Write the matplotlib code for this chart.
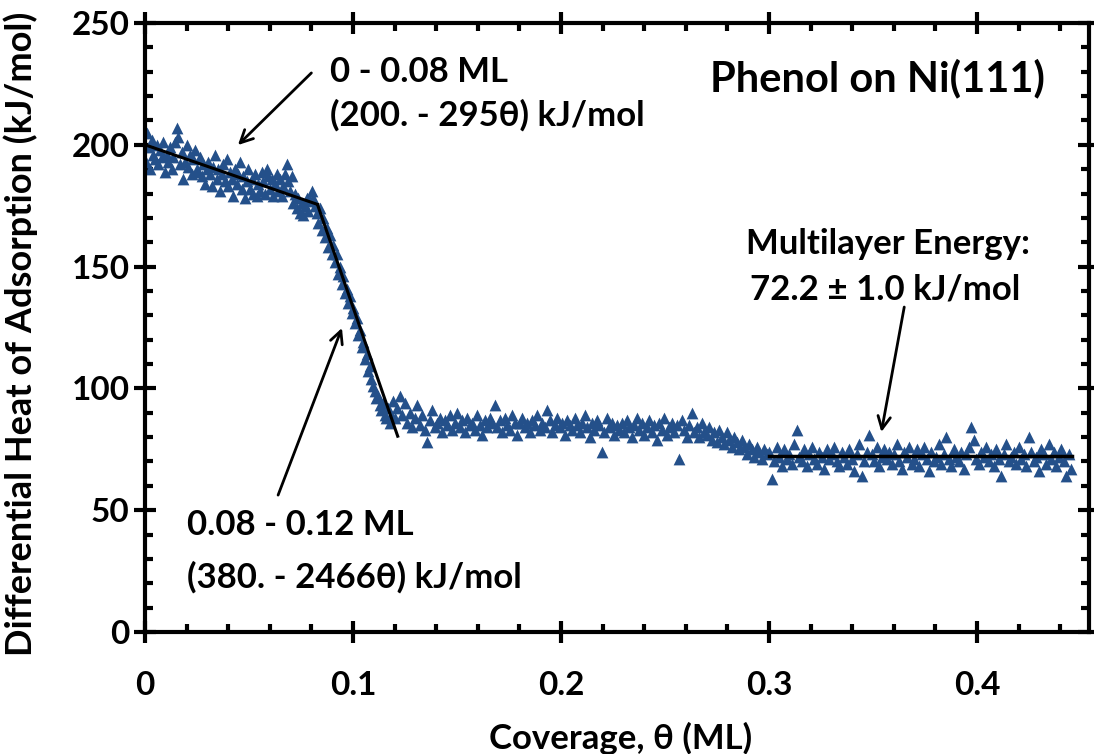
import numpy as np
import matplotlib
matplotlib.use("Agg")
import matplotlib.pyplot as plt
from matplotlib.ticker import MultipleLocator

plt.rcParams['font.family'] = ['Lato', 'DejaVu Sans']
plt.rcParams['font.weight'] = 'bold'

# --- data ---
# 0 - 0.08 ML
theta_a = [0.0003, 0.0010, 0.0018, 0.0025, 0.0033, 0.0041, 0.0049, 0.0057, 0.0065, 0.0073,
           0.0081, 0.0089, 0.0097, 0.0105, 0.0113, 0.0121, 0.0129, 0.0137, 0.0145, 0.0153,
           0.0161, 0.0169, 0.0177, 0.0185, 0.0193, 0.0201, 0.0209, 0.0217, 0.0225, 0.0233,
           0.0241, 0.0249, 0.0257, 0.0265, 0.0273, 0.0281, 0.0289, 0.0297, 0.0305, 0.0313,
           0.0321, 0.0329, 0.0337, 0.0345, 0.0353, 0.0361, 0.0369, 0.0377, 0.0385, 0.0393,
           0.0401, 0.0409, 0.0417, 0.0425, 0.0433, 0.0441, 0.0449, 0.0457, 0.0465, 0.0473,
           0.0481, 0.0489, 0.0497, 0.0505, 0.0513, 0.0521, 0.0529, 0.0537, 0.0545, 0.0553,
           0.0561, 0.0569, 0.0577, 0.0585, 0.0593, 0.0601, 0.0609, 0.0617, 0.0625, 0.0633,
           0.0641, 0.0649, 0.0657, 0.0665, 0.0673, 0.0681, 0.0689, 0.0697, 0.0705, 0.0713,
           0.0721, 0.0729, 0.0737, 0.0745, 0.0753, 0.0761, 0.0769, 0.0777, 0.0785, 0.0793,
           0.0801, 0.0809, 0.0817]
heat_a = [193, 205, 199, 190, 202, 196, 194, 200, 192, 198,
          195, 201, 189, 196, 193, 199, 190, 195, 201, 207,
          203, 192, 197, 186, 193, 200, 191, 196, 188, 194,
          198, 190, 189, 195, 187, 192, 184, 190, 193, 188,
          183, 191, 196, 186, 190, 181, 188, 192, 185, 194,
          183, 189, 186, 179, 190, 184, 188, 193, 182, 187,
          178, 185, 190, 182, 186, 180, 188, 179, 184, 181,
          189, 185, 180, 190, 187, 182, 186, 179, 184, 188,
          181, 186, 179, 183, 188, 192, 185, 181, 187, 176,
          180, 174, 178, 172, 176, 171, 175, 178, 173, 177,
          181, 178, 175]

# 0.08 - 0.12 ML
theta_b = [0.0825, 0.0833, 0.0841, 0.0849, 0.0857, 0.0865, 0.0873, 0.0881, 0.0889, 0.0897,
           0.0905, 0.0913, 0.0921, 0.0929, 0.0937, 0.0945, 0.0953, 0.0961, 0.0969, 0.0977,
           0.0985, 0.0993, 0.1001, 0.1009, 0.1017, 0.1025, 0.1033, 0.1041, 0.1049, 0.1057,
           0.1065, 0.1073, 0.1081, 0.1089, 0.1097, 0.1105, 0.1113, 0.1121, 0.1129, 0.1137,
           0.1145, 0.1153, 0.1161, 0.1169, 0.1177, 0.1185, 0.1193, 0.1201]
heat_b = [172, 168, 174, 165, 170, 162, 166, 158, 163, 155,
          159, 152, 155, 147, 150, 143, 146, 139, 141, 135,
          138, 131, 133, 127, 129, 122, 124, 117, 119, 112,
          114, 107, 109, 104, 101, 99, 96, 97, 93, 91,
          94, 89, 88, 92, 86, 89, 95, 88]

# plateau 0.12 - 0.27 ML
theta_c = [0.1213, 0.1225, 0.1237, 0.1249, 0.1261, 0.1273, 0.1285, 0.1297, 0.1309, 0.1321,
           0.1333, 0.1345, 0.1357, 0.1369, 0.1381, 0.1393, 0.1405, 0.1417, 0.1429, 0.1441,
           0.1453, 0.1465, 0.1477, 0.1489, 0.1501, 0.1513, 0.1525, 0.1537, 0.1549, 0.1561,
           0.1573, 0.1585, 0.1597, 0.1609, 0.1621, 0.1633, 0.1645, 0.1657, 0.1669, 0.1681,
           0.1693, 0.1705, 0.1717, 0.1729, 0.1741, 0.1753, 0.1765, 0.1777, 0.1789, 0.1801,
           0.1813, 0.1825, 0.1837, 0.1849, 0.1861, 0.1873, 0.1885, 0.1897, 0.1909, 0.1921,
           0.1933, 0.1945, 0.1957, 0.1969, 0.1981, 0.1993, 0.2005, 0.2017, 0.2029, 0.2041,
           0.2053, 0.2065, 0.2077, 0.2089, 0.2101, 0.2113, 0.2125, 0.2137, 0.2149, 0.2161,
           0.2173, 0.2185, 0.2197, 0.2209, 0.2221, 0.2233, 0.2245, 0.2257, 0.2269, 0.2281,
           0.2293, 0.2305, 0.2317, 0.2329, 0.2341, 0.2353, 0.2365, 0.2377, 0.2389, 0.2401,
           0.2413, 0.2425, 0.2437, 0.2449, 0.2461, 0.2473, 0.2485, 0.2497, 0.2509, 0.2521,
           0.2533, 0.2545, 0.2557, 0.2569, 0.2581, 0.2593, 0.2605, 0.2617, 0.2629, 0.2641,
           0.2653, 0.2665, 0.2677, 0.2689]
heat_c = [92, 97, 89, 94, 86, 90, 84, 88, 93, 85,
          89, 83, 78, 87, 91, 84, 86, 88, 82, 87,
          85, 89, 83, 86, 90, 84, 87, 82, 88, 85,
          86, 83, 89, 85, 81, 87, 84, 88, 86, 93,
          84, 87, 82, 88, 85, 83, 89, 86, 81, 86,
          88, 84, 86, 82, 87, 85, 89, 83, 86, 84,
          91, 87, 82, 85, 88, 84, 86, 81, 87, 85,
          83, 88, 85, 82, 86, 89, 84, 80, 86, 83,
          87, 85, 74, 82, 88, 84, 86, 81, 85, 83,
          86, 82, 87, 84, 80, 85, 88, 83, 86, 81,
          84, 87, 82, 85, 79, 86, 83, 88, 81, 84,
          86, 82, 85, 71, 87, 83, 80, 85, 90, 82,
          84, 80, 86, 82]

# transition 0.27 - 0.30 ML
theta_d = [0.2701, 0.2713, 0.2725, 0.2737, 0.2749, 0.2761, 0.2773, 0.2785, 0.2797, 0.2809,
           0.2821, 0.2833, 0.2845, 0.2857, 0.2869, 0.2881, 0.2893, 0.2905, 0.2917, 0.2929,
           0.2941, 0.2953, 0.2965, 0.2977, 0.2989]
heat_d = [81, 84, 79, 82, 78, 83, 80, 77, 82, 79,
          76, 80, 78, 75, 79, 76, 73, 77, 75, 72,
          76, 74, 71, 75, 73]

# multilayer 0.30 - 0.445 ML
theta_e = [0.3001, 0.3013, 0.3025, 0.3037, 0.3049, 0.3061, 0.3073, 0.3085, 0.3097, 0.3109,
           0.3121, 0.3133, 0.3145, 0.3157, 0.3169, 0.3181, 0.3193, 0.3205, 0.3217, 0.3229,
           0.3241, 0.3253, 0.3265, 0.3277, 0.3289, 0.3301, 0.3313, 0.3325, 0.3337, 0.3349,
           0.3361, 0.3373, 0.3385, 0.3397, 0.3409, 0.3421, 0.3433, 0.3445, 0.3457, 0.3469,
           0.3481, 0.3493, 0.3505, 0.3517, 0.3529, 0.3541, 0.3553, 0.3565, 0.3577, 0.3589,
           0.3601, 0.3613, 0.3625, 0.3637, 0.3649, 0.3661, 0.3673, 0.3685, 0.3697, 0.3709,
           0.3721, 0.3733, 0.3745, 0.3757, 0.3769, 0.3781, 0.3793, 0.3805, 0.3817, 0.3829,
           0.3841, 0.3853, 0.3865, 0.3877, 0.3889, 0.3901, 0.3913, 0.3925, 0.3937, 0.3949,
           0.3961, 0.3973, 0.3985, 0.3997, 0.4009, 0.4021, 0.4033, 0.4045, 0.4057, 0.4069,
           0.4081, 0.4093, 0.4105, 0.4117, 0.4129, 0.4141, 0.4153, 0.4165, 0.4177, 0.4189,
           0.4201, 0.4213, 0.4225, 0.4237, 0.4249, 0.4261, 0.4273, 0.4285, 0.4297, 0.4309,
           0.4321, 0.4333, 0.4345, 0.4357, 0.4369, 0.4381, 0.4393, 0.4405, 0.4417, 0.4429,
           0.4441, 0.4453]
heat_e = [74, 63, 70, 76, 72, 68, 75, 71, 73, 69,
          77, 83, 72, 70, 75, 68, 73, 76, 71, 69,
          74, 72, 67, 75, 71, 73, 76, 70, 68, 74,
          72, 69, 75, 71, 66, 73, 77, 64, 70, 74,
          81, 73, 70, 76, 68, 72, 75, 71, 74, 69,
          73, 77, 70, 67, 74, 72, 76, 69, 71, 75,
          68, 73, 76, 71, 66, 74, 70, 72, 77, 69,
          73, 80, 71, 68, 75, 72, 70, 74, 67, 73,
          76, 84, 79, 71, 69, 74, 72, 76, 70, 73,
          68, 75, 71, 64, 73, 77, 70, 72, 74, 69,
          76, 71, 73, 68, 80, 74, 70, 72, 66, 75,
          73, 69, 77, 71, 74, 68, 72, 75, 70, 64,
          73, 67]

# fitted lines (end points in coverage)
fit1_theta = [0.0, 0.083]
fit2_theta = [0.083, 0.1215]
fit3_theta = [0.30, 0.4455]
multilayer_energy = 72.2

theta = np.concatenate([theta_a, theta_b, theta_c, theta_d, theta_e])
heat = np.concatenate([heat_a, heat_b, heat_c, heat_d, heat_e])

fig = plt.figure(figsize=(10.94, 7.54), dpi=100)
ax = fig.add_axes([0.1325, 0.1618, 0.8629, 0.8077])

ax.scatter(theta, heat, marker='^', s=72, color='#24508A', linewidths=0, zorder=2)

# fit lines
x1 = np.array(fit1_theta)
ax.plot(x1, 200. - 295 * x1, color='black', lw=2.2, zorder=3)
x2 = np.array(fit2_theta)
ax.plot(x2, 380. - 2466 * x2, color='black', lw=2.2, zorder=3)
ax.plot(fit3_theta, [multilayer_energy] * 2, color='black', lw=2.5, zorder=3)

ax.set_xlim(0, 0.4538)
ax.set_ylim(0, 250)
ax.xaxis.set_major_locator(MultipleLocator(0.1))
ax.xaxis.set_minor_locator(MultipleLocator(0.02))
ax.yaxis.set_major_locator(MultipleLocator(50))
ax.yaxis.set_minor_locator(MultipleLocator(10))
ax.set_xticks([0, 0.1, 0.2, 0.3, 0.4])
ax.set_xticklabels(['0', '0.1', '0.2', '0.3', '0.4'])

for s in ax.spines.values():
    s.set_linewidth(3)
ax.tick_params(which='major', direction='inout', length=16, width=3,
               top=True, right=True, labelsize=24, pad=3)
ax.tick_params(which='minor', direction='in', length=6, width=3, top=True, right=True)
ax.tick_params(axis='x', which='major', pad=20)
for lab in ax.get_xticklabels() + ax.get_yticklabels():
    lab.set_fontweight('bold')

ax.set_xlabel('Coverage, θ (ML)', fontsize=25, fontweight='bold')
ax.set_ylabel('Differential Heat of Adsorption (kJ/mol)', fontsize=26, fontweight='bold')
ax.xaxis.set_label_coords(0.504, -0.148)
ax.yaxis.set_label_coords(-0.113, 0.49)

tfs = 25
ax.text(0.0889, 229.9, '0 - 0.08 ML', fontsize=tfs, fontweight='bold', va='center', ha='left')
ax.text(0.0889, 212.2, '(200. - 295θ) kJ/mol', fontsize=tfs, fontweight='bold', va='center', ha='left')
ax.text(0.0202, 43.9, '0.08 - 0.12 ML', fontsize=tfs, fontweight='bold', va='center', ha='left')
ax.text(0.0202, 22.6, '(380. - 2466θ) kJ/mol', fontsize=tfs, fontweight='bold', va='center', ha='left')
ax.text(0.357, 159.3, 'Multilayer Energy:', fontsize=tfs, fontweight='bold', va='center', ha='center')
ax.text(0.356, 140.4, '72.2 ± 1.0 kJ/mol', fontsize=tfs, fontweight='bold', va='center', ha='center')
ax.text(0.352, 227.4, 'Phenol on Ni(111)', fontsize=30, fontweight='bold', va='center', ha='center')

arrow = dict(arrowstyle='->,head_length=0.9,head_width=0.45', color='black', lw=2,
             shrinkA=0, shrinkB=0)
ax.annotate('', xy=(0.0447, 199.9), xytext=(0.080, 229.5), arrowprops=arrow)
ax.annotate('', xy=(0.0947, 124.8), xytext=(0.064, 56.2), arrowprops=arrow)
ax.annotate('', xy=(0.354, 82.1), xytext=(0.365, 133.4), arrowprops=arrow)

fig.savefig('out.png', dpi=100)
